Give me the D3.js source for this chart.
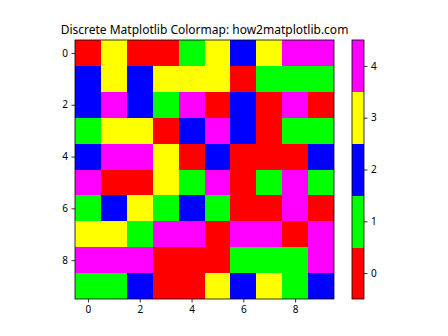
<!DOCTYPE html>
<html>
<head>
<meta charset="utf-8">
<script src="https://cdn.jsdelivr.net/npm/d3@7"></script>
<style>
  body { margin: 0; background: #fff; }
  text { font-family: "Noto Sans", sans-serif; }
</style>
</head>
<body>
<svg id="chart" width="448" height="336"></svg>
<script>
// 0=red 1=lime 2=blue 3=yellow 4=magenta
var grid = [
  [0, 3, 0, 0, 1, 3, 2, 3, 4, 4],
  [2, 3, 2, 3, 3, 3, 0, 1, 1, 1],
  [2, 4, 2, 1, 4, 0, 2, 0, 4, 0],
  [1, 3, 3, 0, 2, 4, 2, 0, 1, 1],
  [2, 4, 4, 3, 0, 2, 0, 0, 0, 2],
  [4, 0, 0, 3, 1, 4, 0, 1, 4, 1],
  [1, 2, 3, 1, 2, 1, 0, 0, 4, 0],
  [3, 3, 1, 4, 4, 0, 4, 4, 0, 4],
  [4, 4, 4, 0, 0, 0, 1, 1, 1, 4],
  [1, 1, 2, 0, 0, 3, 2, 3, 1, 2]
];
var levels = [0, 1, 2, 3, 4];
var colors = ["#ff0000", "#00ff00", "#0000ff", "#ffff00", "#ff00ff"];
var axisTicks = [0, 2, 4, 6, 8];
var title = "Discrete Matplotlib Colormap: how2matplotlib.com";

var svg = d3.select("#chart");
var mLeft = 75, mTop = 40, size = 259;

var color = d3.scaleOrdinal().domain(levels).range(colors);
var x = d3.scaleLinear().domain([-0.5, 9.5]).range([mLeft, mLeft + size]);
var y = d3.scaleLinear().domain([-0.5, 9.5]).range([mTop, mTop + size]);

var cells = [];
grid.forEach(function(row, i) {
  row.forEach(function(v, j) { cells.push({r: i, c: j, v: v}); });
});

svg.append("g").selectAll("rect")
  .data(cells)
  .enter().append("rect")
  .attr("x", function(d) { return x(d.c - 0.5); })
  .attr("y", function(d) { return y(d.r - 0.5); })
  .attr("width", x(1) - x(0) + 0.3)
  .attr("height", y(1) - y(0) + 0.3)
  .attr("fill", function(d) { return color(d.v); })
  .attr("shape-rendering", "crispEdges");

svg.append("rect")
  .attr("x", mLeft).attr("y", mTop)
  .attr("width", size).attr("height", size)
  .attr("fill", "none").attr("stroke", "#000").attr("stroke-width", 0.8);

var xAxis = svg.append("g")
  .attr("transform", "translate(0," + (mTop + size) + ")")
  .call(d3.axisBottom(x).tickValues(axisTicks).tickSize(3.5).tickPadding(3.5));
var yAxis = svg.append("g")
  .attr("transform", "translate(" + mLeft + ",0)")
  .call(d3.axisLeft(y).tickValues(axisTicks).tickSize(3.5).tickPadding(3.5));
[xAxis, yAxis].forEach(function(a) {
  a.select(".domain").remove();
  a.selectAll("text").attr("font-size", 10).attr("font-family", "Noto Sans").attr("fill", "#000");
  a.selectAll("line").attr("stroke-width", 0.8);
});

svg.append("text")
  .attr("x", mLeft + size / 2).attr("y", 34)
  .attr("text-anchor", "middle")
  .attr("font-size", 12)
  .text(title);

// colorbar
var cbLeft = 352, cbW = 12;
var cy = d3.scaleLinear().domain([-0.5, 4.5]).range([mTop + size, mTop]);
svg.append("g").selectAll("rect")
  .data(levels)
  .enter().append("rect")
  .attr("x", cbLeft)
  .attr("y", function(d) { return cy(d + 0.5); })
  .attr("width", cbW)
  .attr("height", cy(0) - cy(1) + 0.3)
  .attr("fill", function(d) { return color(d); })
  .attr("shape-rendering", "crispEdges");
svg.append("rect")
  .attr("x", cbLeft).attr("y", mTop)
  .attr("width", cbW).attr("height", size)
  .attr("fill", "none").attr("stroke", "#000").attr("stroke-width", 0.8);
var cbAxis = svg.append("g")
  .attr("transform", "translate(" + (cbLeft + cbW) + ",0)")
  .call(d3.axisRight(cy).tickValues(levels).tickFormat(d3.format("d")).tickSize(3.5).tickPadding(3.5));
cbAxis.select(".domain").remove();
cbAxis.selectAll("text").attr("font-size", 10).attr("font-family", "Noto Sans").attr("fill", "#000");
cbAxis.selectAll("line").attr("stroke-width", 0.8);
</script>
</body>
</html>
